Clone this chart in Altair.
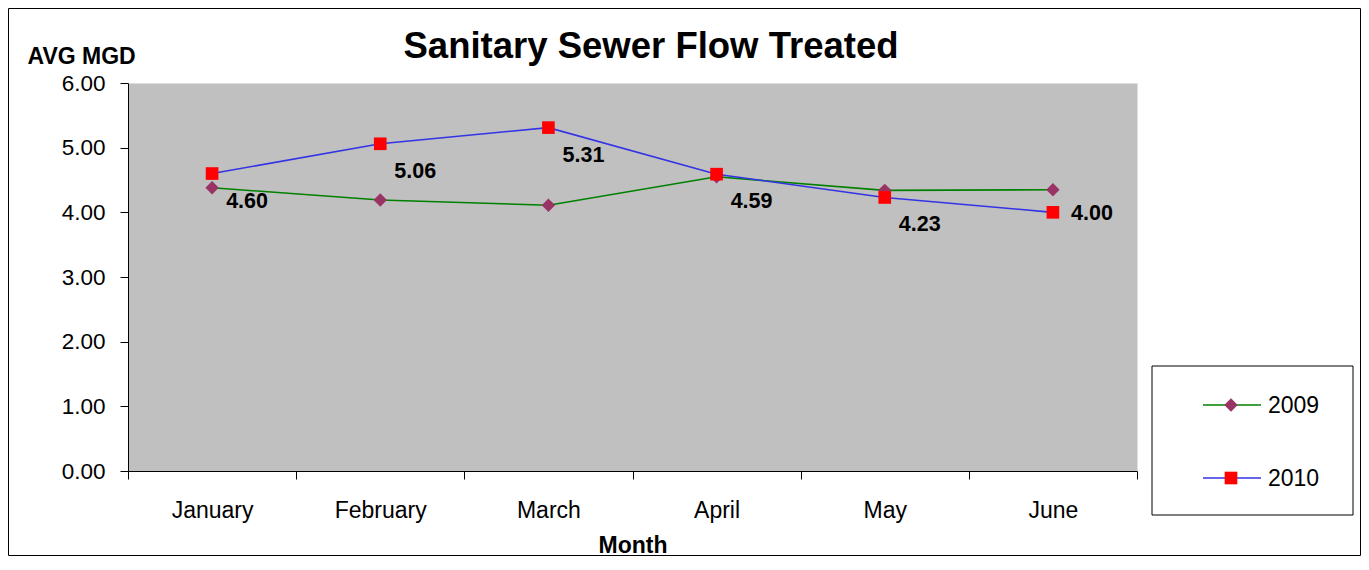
import altair as alt
import pandas as pd

TITLE = "Sanitary Sewer Flow Treated"
Y_TITLE = "AVG MGD"
X_TITLE = "Month"
months = ["January", "February", "March", "April", "May", "June"]
series = ["2009", "2010"]
values_2009 = [4.38, 4.19, 4.11, 4.55, 4.34, 4.35]
values_2010 = [4.60, 5.06, 5.31, 4.59, 4.23, 4.00]
y_ticks = [0, 1, 2, 3, 4, 5, 6]

FONT = "Liberation Sans"
LINE_COLORS = {"2009": "#008000", "2010": "#3333E6"}
MARK_COLORS = {"2009": "#993366", "2010": "#FF0000"}
SHAPES = {"2009": "diamond", "2010": "square"}
SIZES = {"2009": 180, "2010": 160}

df = pd.DataFrame({
    "month": months * 2,
    "year": ["2009"] * 6 + ["2010"] * 6,
    "value": values_2009 + values_2010,
})

W, H = 1009, 388

x_enc = alt.X(
    "month:N", sort=months, bandPosition=0.5,
    scale=alt.Scale(type="band", paddingInner=0, paddingOuter=0),
    axis=alt.Axis(title=X_TITLE, tickBand="extent", labelAngle=0, tickSize=8,
                  labelPadding=20, labelFontSize=23, titleFont=FONT, titleFontSize=23,
                  titleFontWeight="bold", titleBaseline="alphabetic",
                  titleY=81, titleColor="black"),
)
y_enc = alt.Y(
    "value:Q", scale=alt.Scale(domain=[0, 6], nice=False, zero=True),
    axis=alt.Axis(values=y_ticks, format=".2f", grid=False, title=Y_TITLE,
                  titleAngle=0, titleAlign="left", titleBaseline="alphabetic",
                  titleX=-101, titleY=-20, titleFont=FONT, titleFontSize=23,
                  titleFontWeight="bold", titleColor="black",
                  tickSize=8, labelPadding=15, labelFontSize=22.5),
)

base = alt.Chart(df)
layers = []

# outer border
border_df = pd.DataFrame({"k": [0]})
layers.append(
    alt.Chart(border_df).mark_rect(filled=False, stroke="black", strokeWidth=1).encode(
        x=alt.value(-119.5), x2=alt.value(1232.5), y=alt.value(-74.5), y2=alt.value(472.5)
    )
)

for yr in series:
    sub = base.transform_filter(alt.datum.year == yr)
    layers.append(sub.mark_line(color=LINE_COLORS[yr], strokeWidth=1.6).encode(x=x_enc, y=y_enc))
for yr in series:
    sub = base.transform_filter(alt.datum.year == yr)
    layers.append(
        sub.mark_point(shape=SHAPES[yr], filled=True, fill=MARK_COLORS[yr],
                       size=SIZES[yr], opacity=1, strokeWidth=0).encode(x=x_enc, y=y_enc)
    )

lab = base.transform_filter(alt.datum.year == "2010")
layers.append(
    lab.transform_filter(alt.datum.month != "June").mark_text(
        font=FONT, fontSize=21.5, fontWeight="bold", color="black",
        dx=35, dy=28, align="center", baseline="middle"
    ).encode(x=x_enc, y=y_enc, text=alt.Text("value:Q", format=".2f"))
)
layers.append(
    lab.transform_filter(alt.datum.month == "June").mark_text(
        font=FONT, fontSize=21.5, fontWeight="bold", color="black",
        dx=39, dy=2, align="center", baseline="middle"
    ).encode(x=x_enc, y=y_enc, text=alt.Text("value:Q", format=".2f"))
)

# title
title_df = pd.DataFrame({"t": [TITLE]})
layers.append(
    alt.Chart(title_df).mark_text(font=FONT, fontSize=36.5, fontWeight="bold",
                                  color="black", align="center", baseline="alphabetic").encode(
        x=alt.value(523), y=alt.value(-25), text="t:N"
    )
)

# legend box
leg_df = pd.DataFrame({"k": [0]})
layers.append(
    alt.Chart(leg_df).mark_rect(fill="white", stroke="black", strokeWidth=1).encode(
        x=alt.value(1024), x2=alt.value(1225), y=alt.value(283), y2=alt.value(432)
    )
)
row_y = {"2009": 322, "2010": 395}
for yr in series:
    d = pd.DataFrame({"name": [yr]})
    c = alt.Chart(d)
    layers.append(c.mark_rule(color=LINE_COLORS[yr], strokeWidth=1.6).encode(
        x=alt.value(1075), x2=alt.value(1133), y=alt.value(row_y[yr])))
    layers.append(c.mark_point(shape=SHAPES[yr], filled=True, fill=MARK_COLORS[yr],
                               size=SIZES[yr], opacity=1, strokeWidth=0).encode(
        x=alt.value(1103), y=alt.value(row_y[yr])))
    layers.append(c.mark_text(font=FONT, fontSize=23, color="black", align="left",
                              baseline="alphabetic").encode(
        x=alt.value(1140), y=alt.value(row_y[yr] + 8), text="name:N"))

chart = alt.layer(*layers).properties(
    width=W, height=H,
    autosize=alt.AutoSizeParams(type="none"),
    padding={"left": 120, "top": 75, "right": 224, "bottom": 85},
    background="white",
).configure_view(
    fill="#C0C0C0", stroke="transparent"
).configure_axis(
    domainColor="black", tickColor="black", labelColor="black",
    labelFont=FONT, labelFontSize=22, domainWidth=1, tickWidth=1,
)

chart.save("out.html", embed_options={"renderer": "svg", "actions": False})
